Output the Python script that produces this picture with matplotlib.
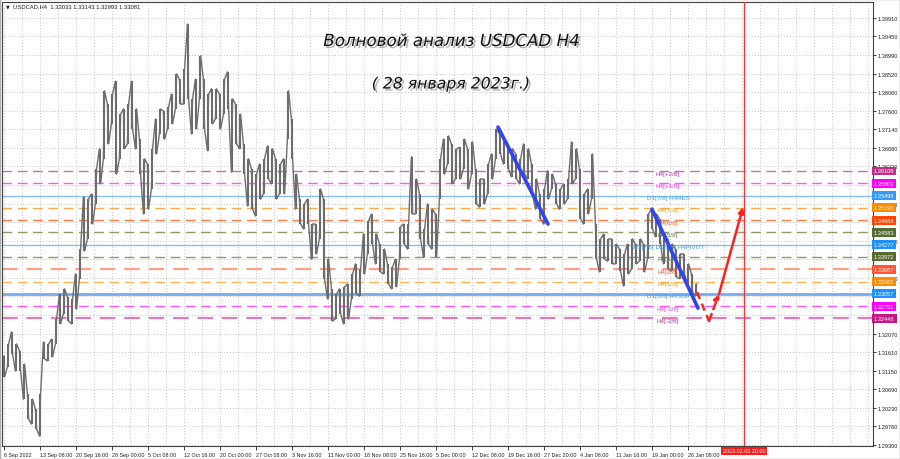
import numpy as np
import matplotlib
matplotlib.use("Agg")
import matplotlib.pyplot as plt
import matplotlib.transforms as mtransforms
import matplotlib.patheffects as pe
from matplotlib.patches import Rectangle

# ---------------- data ----------------
high = [1.3151, 1.3181, 1.3211, 1.3181, 1.3164, 1.3131, 1.3057, 1.3044, 1.3019, 1.3057,
        1.3186, 1.3181, 1.3193, 1.3243, 1.3305, 1.3318, 1.3298, 1.3293, 1.3355, 1.3417,
        1.3546, 1.3541, 1.3554, 1.3616, 1.3666, 1.3810, 1.3777, 1.3802, 1.3834, 1.3752,
        1.3765, 1.3777, 1.3834, 1.3765, 1.3690, 1.3641, 1.3628, 1.3666, 1.3740, 1.3765,
        1.3760, 1.3770, 1.3802, 1.3852, 1.3839, 1.3864, 1.3976, 1.3790, 1.3839, 1.3897,
        1.3839, 1.3802, 1.3815, 1.3815, 1.3802, 1.3839, 1.3857, 1.3790, 1.3777, 1.3752,
        1.3678, 1.3641, 1.3616, 1.3603, 1.3628, 1.3641, 1.3673, 1.3666, 1.3641, 1.3628,
        1.3641, 1.3810, 1.3740, 1.3603, 1.3541, 1.3529, 1.3541, 1.3479, 1.3479, 1.3566,
        1.3541, 1.3392, 1.3318, 1.3305, 1.3318, 1.3323, 1.3330, 1.3355, 1.3380, 1.3367,
        1.3454, 1.3487, 1.3504, 1.3454, 1.3429, 1.3417, 1.3380, 1.3372, 1.3392, 1.3472,
        1.3479, 1.3479, 1.3646, 1.3591, 1.3554, 1.3467, 1.3529, 1.3516, 1.3504, 1.3641,
        1.3690, 1.3698, 1.3678, 1.3666, 1.3670, 1.3690, 1.3666, 1.3683, 1.3616, 1.3591,
        1.3591, 1.3628, 1.3653, 1.3715, 1.3703, 1.3690, 1.3678, 1.3666, 1.3653, 1.3641,
        1.3678, 1.3666, 1.3628, 1.3591, 1.3554, 1.3566, 1.3611, 1.3603, 1.3579, 1.3566,
        1.3579, 1.3591, 1.3683, 1.3666, 1.3616, 1.3554, 1.3566, 1.3653, 1.3479, 1.3442,
        1.3454, 1.3442, 1.3442, 1.3429, 1.3417, 1.3405, 1.3429, 1.3442, 1.3429, 1.3442,
        1.3429, 1.3504, 1.3516, 1.3504, 1.3492, 1.3454, 1.3442, 1.3429, 1.3417, 1.3405,
        1.3405, 1.3380, 1.3355, 1.3330]
low = [1.3099, 1.3124, 1.3156, 1.3114, 1.3114, 1.3044, 1.2995, 1.2982, 1.2970, 1.2952,
       1.3144, 1.3139, 1.3149, 1.3181, 1.3231, 1.3256, 1.3238, 1.3231, 1.3268, 1.3343,
       1.3412, 1.3442, 1.3479, 1.3529, 1.3579, 1.3641, 1.3678, 1.3728, 1.3603, 1.3641,
       1.3666, 1.3678, 1.3715, 1.3666, 1.3603, 1.3504, 1.3516, 1.3566, 1.3653, 1.3703,
       1.3690, 1.3715, 1.3728, 1.3765, 1.3777, 1.3777, 1.3790, 1.3703, 1.3715, 1.3790,
       1.3715, 1.3661, 1.3728, 1.3740, 1.3715, 1.3752, 1.3765, 1.3608, 1.3678, 1.3666,
       1.3603, 1.3524, 1.3516, 1.3499, 1.3541, 1.3554, 1.3591, 1.3579, 1.3541, 1.3554,
       1.3554, 1.3690, 1.3641, 1.3516, 1.3479, 1.3467, 1.3479, 1.3392, 1.3405, 1.3442,
       1.3343, 1.3293, 1.3238, 1.3243, 1.3256, 1.3231, 1.3243, 1.3293, 1.3305, 1.3300,
       1.3355, 1.3405, 1.3429, 1.3380, 1.3360, 1.3355, 1.3330, 1.3318, 1.3323, 1.3392,
       1.3429, 1.3417, 1.3504, 1.3504, 1.3442, 1.3397, 1.3429, 1.3417, 1.3397, 1.3541,
       1.3603, 1.3628, 1.3579, 1.3591, 1.3591, 1.3616, 1.3566, 1.3603, 1.3529, 1.3521,
       1.3529, 1.3554, 1.3591, 1.3641, 1.3653, 1.3628, 1.3616, 1.3596, 1.3591, 1.3579,
       1.3603, 1.3591, 1.3554, 1.3516, 1.3492, 1.3479, 1.3541, 1.3566, 1.3529, 1.3516,
       1.3529, 1.3541, 1.3579, 1.3591, 1.3492, 1.3479, 1.3504, 1.3541, 1.3392, 1.3360,
       1.3392, 1.3387, 1.3380, 1.3380, 1.3362, 1.3325, 1.3355, 1.3367, 1.3380, 1.3387,
       1.3360, 1.3392, 1.3467, 1.3447, 1.3429, 1.3380, 1.3367, 1.3362, 1.3347, 1.3343,
       1.3355, 1.3330, 1.3310, 1.3300]

date_labels = ["6 Sep 2022", "13 Sep 08:00", "20 Sep 16:00", "28 Sep 00:00", "5 Oct 08:00",
               "12 Oct 16:00", "20 Oct 00:00", "27 Oct 08:00", "3 Nov 16:00", "11 Nov 00:00",
               "18 Nov 08:00", "25 Nov 16:00", "5 Dec 00:00", "12 Dec 08:00", "19 Dec 16:00",
               "27 Dec 20:00", "4 Jan 08:00", "11 Jan 16:00", "19 Jan 00:00", "26 Jan 08:00"]
bars_per_label = 9
future_bar = 185
future_label = "2023.02.03 20:00"

price_ticks = [1.39910, 1.39450, 1.38990, 1.38520, 1.38060, 1.37600, 1.37140, 1.36680,
               1.36220, 1.35760, 1.35300, 1.34840, 1.34380, 1.33920, 1.33460, 1.33000,
               1.32530, 1.32070, 1.31610, 1.31150, 1.30690, 1.30230, 1.29760, 1.29300]

level_prices = [1.36108, 1.35803, 1.35498, 1.35193, 1.34888, 1.34583, 1.34277,
                1.33972, 1.33667, 1.33362, 1.33057, 1.32751, 1.32446]
level_names = ["H4[+2/8]", "H4[+1/8]", "D1[7/8] H4RES", "H4[7/8]", "H4[6/8]", "H4[5/8]",
               "W1[7/8] D1[6/8] H4PIVOT", "H4[3/8]", "H4[2/8]", "H4[1/8]",
               "D1[5/8] H4SUP", "H4[-1/8]", "H4[-2/8]"]
level_line_colors = ["#d466ac", "#ff55ff", "#86bdf2", "#ffaa48", "#ff7a48", "#8f9a66", "#86bdf2",
                     "#8f9a66", "#ffa084", "#ffb452", "#74acee", "#ff55ff", "#e47abb"]
level_solid = [False, False, True, False, False, False, True, False, False, False, True, False, False]
level_widths = [1.0, 1.0, 1.0, 1.0, 1.0, 1.0, 1.0, 1.0, 1.6, 1.0, 2.0, 1.0, 1.6]
level_text_colors = ["#c0309a", "#ff30ff", "#3a9cf0", "#ff9a20", "#ff5a20", "#6b7a3a", "#3a9cf0",
                     "#6b7a3a", "#ff5a30", "#ff9a20", "#3a9cf0", "#ff30ff", "#c0309a"]
level_box_colors = ["#c0308a", "#ff00ff", "#3399ff", "#ff8c00", "#ff4500", "#556b2f", "#1e90ff",
                    "#556b2f", "#ff5533", "#ff8c00", "#1e90ff", "#ff00ff", "#c71585"]

# analyst drawings (bar index, price)
blue_wave1_x = [123.5, 136.0]
blue_wave1_y = [1.3720, 1.3479]
blue_wave2_x = [162.0, 173.5]
blue_wave2_y = [1.3516, 1.3270]
red_dash_x = [173.25, 176.25, 178.75]
red_dash_y = [1.3310, 1.3238, 1.3305]
red_up_x = [178.75, 184.75]
red_up_y = [1.3305, 1.3521]

header = "USDCAD,H4  1.33033 1.33143 1.32993 1.33081"
title1 = "Волновой анализ USDCAD H4"
title2 = "( 28 января 2023г.)"

SMALL = "Liberation Sans"

# ---------------- figure ----------------
W, H = 900, 460
fig = plt.figure(figsize=(9, 4.6), dpi=100)
fig.patch.set_facecolor("white")
ax = fig.add_axes([2 / W, 1 - 447 / H, 871 / W, 444 / H])
ax.set_facecolor("white")

ax.set_xlim(-0.5, 217.25)
ax.set_ylim(1.29275, 1.40307)

# grid and ticks (price labels hidden behind a level box are left blank, as in MT4)
ax.set_yticks(price_ticks)
ytl = []
for p in price_ticks:
    covered = min(abs(p - lv) for lv in level_prices) < 0.0009
    ytl.append("" if covered else f"{p:.5f}")
ax.set_yticklabels(ytl, fontfamily=SMALL)
xt = np.arange(len(date_labels)) * bars_per_label
ax.set_xticks(xt)
ax.set_xticklabels(date_labels, fontfamily=SMALL)
ax.set_xticks(np.arange(0, 218, bars_per_label / 2), minor=True)
ax.grid(True, which="major", axis="y", color="#c4c4c4", linestyle=(0, (1, 2)), lw=0.7)
ax.grid(True, which="both", axis="x", color="#c4c4c4", linestyle=(0, (1, 2)), lw=0.7)
ax.tick_params(axis="x", which="minor", length=0)
ax.tick_params(axis="x", which="major", labelsize=3.9, length=3, pad=1.5, colors="#202020", width=0.6)
for lab in ax.get_xticklabels():
    lab.set_horizontalalignment("left")
ax.yaxis.tick_right()
ax.tick_params(axis="y", labelsize=4.1, length=2.5, pad=1, colors="#202020", width=0.6)
for sp in ax.spines.values():
    sp.set_color("#404040")
    sp.set_linewidth(0.8)

# levels
bt = mtransforms.blended_transform_factory(ax.transAxes, ax.transData)
for p, name, lc, solid, lw, tc, bc in zip(level_prices, level_names, level_line_colors,
                                          level_solid, level_widths, level_text_colors,
                                          level_box_colors):
    ls = "-" if solid else (0, (7, 4))
    ax.axhline(p, color=lc, lw=lw, ls=ls, zorder=2)
    ax.text(166, p - 0.0005, name, color=tc, fontsize=4.5, ha="center", va="center",
            zorder=5, fontfamily=SMALL)
    ax.text(1.0 + 1.0 / 871, p, f"{p:.5f}", transform=bt, fontsize=4.1, color="white",
            ha="left", va="center", zorder=10, clip_on=False, fontfamily=SMALL,
            bbox=dict(boxstyle="square,pad=0.35", fc=bc, ec="none"))

# price (H4 bars: high-low ranges joined in a zigzag)
x = np.arange(len(high))
ax.vlines(x, low, high, color="#6a6a6a", lw=1.5, zorder=3)
xs, ys = [], []
for i in x:
    a, b = (high[i], low[i]) if i % 2 == 0 else (low[i], high[i])
    xs += [i - 0.15, i + 0.15]
    ys += [a, b]
ax.plot(xs, ys, color="#6e6e6e", lw=1.0, zorder=3)

# drawings
ax.plot(blue_wave1_x, blue_wave1_y, color="#2f45ee", lw=2.6, solid_capstyle="round", zorder=6)
ax.plot(blue_wave2_x, blue_wave2_y, color="#2f45ee", lw=2.6, solid_capstyle="round", zorder=6)
ax.plot(red_dash_x[:2], red_dash_y[:2], color="#ff2020", lw=1.8, ls=(0, (3, 2)), zorder=6)
ax.annotate("", xy=(red_dash_x[2], red_dash_y[2]), xytext=(red_dash_x[1], red_dash_y[1]),
            arrowprops=dict(arrowstyle="-|>", color="#ff2020", lw=1.8, ls=(0, (3, 2)),
                            mutation_scale=8, shrinkA=0, shrinkB=0), zorder=6)
ax.annotate("", xy=(red_up_x[1], red_up_y[1]), xytext=(red_up_x[0], red_up_y[0]),
            arrowprops=dict(arrowstyle="-|>", color="#ff2020", lw=1.8,
                            mutation_scale=8, shrinkA=0, shrinkB=0), zorder=6)
ax.axvline(future_bar, color="#ff3030", lw=0.9, zorder=4)

bx = mtransforms.blended_transform_factory(ax.transData, ax.transAxes)
ax.text(future_bar, -5.0 / 444, future_label, transform=bx, fontsize=3.9, color="white",
        ha="center", va="center", clip_on=False, zorder=10, fontfamily=SMALL,
        bbox=dict(boxstyle="square,pad=0.35", fc="#ff1a1a", ec="none"))

# header and titles
fig.text(6 / W, 1 - 7 / H, "▼", fontsize=3.5, color="#202020", va="center", ha="left")
fig.text(13 / W, 1 - 7 / H, header, fontsize=4.2, color="#202020", va="center", ha="left",
         fontfamily=SMALL)
shadow = [pe.withSimplePatchShadow(offset=(1.5, -1.5), shadow_rgbFace="#808080", alpha=0.6)]
fig.text(451 / W, 1 - 42 / H, title1, fontsize=12, color="#111111", ha="center", va="center",
         style="italic", path_effects=shadow)
fig.text(451 / W, 1 - 85 / H, title2, fontsize=11.3, color="#111111", ha="center", va="center",
         style="italic", path_effects=shadow)

fig.patches.append(Rectangle((0, 0), 1, 1, transform=fig.transFigure, fill=False,
                             ec="#b0b0b0", lw=1.0))

fig.savefig("out.png", dpi=100)
